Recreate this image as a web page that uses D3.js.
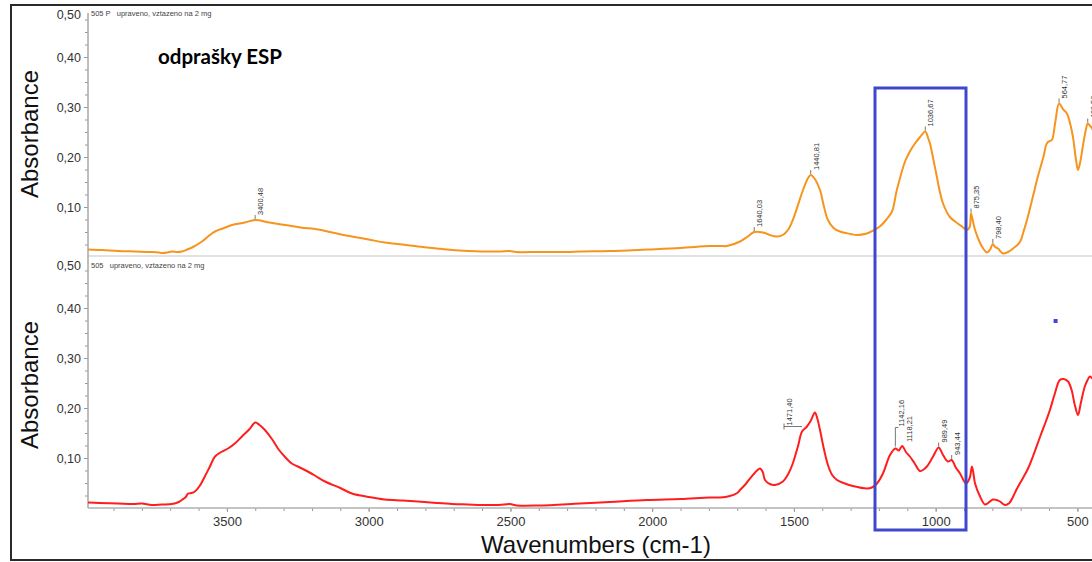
<!DOCTYPE html>
<html>
<head>
<meta charset="utf-8">
<script src="https://cdn.jsdelivr.net/npm/d3@7"></script>
<style>
  body { margin: 0; background: #fff; }
  svg { display: block; }
</style>
</head>
<body>
<svg id="chart" width="1092" height="562"></svg>
<script>
// ---- spectrum 505 P (top panel, orange) ----
const topWavenumbers = [3990,3940,3884,3820,3765,3740,3729,3710,3694,3675,3659,3640,3623,3588,3560,3542,3510,3482,3437,3400.48,3350,3295,3240,3179,3120,3059,3000,2943,2880,2826,2760,2706,2650,2601,2540,2502,2480,2400,2300,2255,2150,2019,1900,1796,1760,1736,1690,1660,1640.03,1609,1580,1560,1539,1520,1504,1485,1468,1450,1440.81,1425,1408,1395,1380,1360,1338,1300,1278,1243,1220,1197,1175,1154,1137,1108,1090,1073,1055,1036.67,1025,1020,1008,996,985,974,950,922,905,890,880,875.35,868,861,845,830,819,808,798.40,790,780,763,745,727,710,700,692,675,657,640,620,608,598,590,578,564.77,550,537,525,516,505,498,490,481,470,463.58,455,449,440,430];
const topAbsorbance = [0.015,0.014,0.012,0.011,0.010,0.009,0.008,0.009,0.011,0.010,0.011,0.015,0.019,0.031,0.044,0.051,0.058,0.064,0.069,0.074,0.069,0.064,0.059,0.055,0.048,0.041,0.035,0.029,0.025,0.021,0.017,0.014,0.012,0.011,0.011,0.012,0.010,0.010,0.010,0.011,0.012,0.015,0.018,0.022,0.022,0.022,0.031,0.042,0.050,0.049,0.043,0.041,0.044,0.055,0.074,0.105,0.134,0.158,0.164,0.155,0.134,0.103,0.074,0.058,0.051,0.046,0.044,0.047,0.053,0.061,0.074,0.091,0.134,0.191,0.212,0.227,0.240,0.251,0.235,0.227,0.195,0.161,0.130,0.107,0.080,0.067,0.060,0.054,0.060,0.087,0.070,0.054,0.030,0.015,0.009,0.015,0.026,0.020,0.017,0.007,0.010,0.017,0.025,0.033,0.047,0.080,0.121,0.160,0.200,0.227,0.232,0.234,0.270,0.307,0.295,0.287,0.265,0.241,0.195,0.174,0.190,0.221,0.255,0.267,0.262,0.258,0.245,0.235];

// ---- spectrum 505 (bottom panel, red) ----
const bottomWavenumbers = [3990,3950,3884,3830,3800,3765,3730,3694,3670,3659,3645,3637,3625,3613,3595,3578,3560,3542,3520,3496,3470,3447,3420,3400,3385,3366,3340,3320,3295,3271,3250,3225,3190,3154,3100,3059,3000,2943,2880,2826,2760,2706,2650,2601,2540,2502,2477,2400,2255,2150,2019,1900,1796,1760,1726,1700,1690,1670,1655,1630,1620,1610,1602,1585,1567,1539,1520,1504,1485,1471.40,1454,1440,1426,1418,1408,1395,1380,1365,1348,1320,1292,1243,1225,1207,1186,1161,1142.16,1130,1118.21,1105,1091,1075,1056,1045,1031,1010,989.49,980,974,957,943.44,930,914,893,880,872,866,861,845,826,815,798,785,773,756,740,725,713,690,675,657,630,610,597,580,562,548,533,520,510,498,488,474,465,456,449,440,430];
const bottomAbsorbance = [0.011,0.010,0.009,0.008,0.009,0.006,0.007,0.008,0.012,0.016,0.022,0.029,0.030,0.033,0.045,0.063,0.083,0.103,0.112,0.119,0.130,0.143,0.158,0.171,0.166,0.156,0.137,0.119,0.102,0.089,0.083,0.076,0.065,0.053,0.040,0.029,0.022,0.017,0.015,0.013,0.010,0.008,0.007,0.006,0.006,0.008,0.005,0.005,0.009,0.012,0.016,0.018,0.021,0.021,0.024,0.030,0.036,0.048,0.059,0.075,0.079,0.072,0.056,0.048,0.046,0.053,0.068,0.089,0.125,0.153,0.163,0.175,0.191,0.180,0.156,0.120,0.086,0.066,0.056,0.049,0.044,0.039,0.041,0.049,0.069,0.106,0.119,0.115,0.124,0.112,0.103,0.090,0.074,0.076,0.083,0.102,0.121,0.113,0.106,0.093,0.096,0.082,0.069,0.049,0.060,0.083,0.066,0.049,0.025,0.007,0.010,0.017,0.016,0.013,0.006,0.010,0.025,0.039,0.062,0.078,0.103,0.145,0.175,0.196,0.228,0.256,0.258,0.253,0.235,0.208,0.186,0.210,0.243,0.255,0.263,0.260,0.255,0.250];

// ---- peak picks ----
const topPeaks = [3400.48, 1640.03, 1440.81, 1036.67, 875.35, 798.40, 564.77, 463.58];
const bottomPeaks = [1471.40, 1142.16, 1118.21, 989.49, 943.44];

// ---- axes ----
const yTickValues = [0.1, 0.2, 0.3, 0.4, 0.5];
const xTickValues = [3500, 3000, 2500, 2000, 1500, 1000, 500];

// region of interest (cm-1)
const highlightRange = [1214, 893];

const svg = d3.select("#chart");
const W = 1092, H = 562;
const axisX = 88;

const x = d3.scaleLinear().domain([3990, 400]).range([axisX, axisX + 3590 * 0.2835]);
const yTop = d3.scaleLinear().domain([0, 0.5]).range([257, 7]);
const yBot = d3.scaleLinear().domain([0, 0.5]).range([508, 258]);

const comma = v => d3.format(".2f")(v).replace(".", ",");
const FONT = "'Liberation Sans', Arial, sans-serif";

// outer frame
svg.append("rect").attr("x", 11).attr("y", 5).attr("width", 1100).attr("height", 555)
  .attr("fill", "none").attr("stroke", "#2a2a2a").attr("stroke-width", 2);

// panel separator
svg.append("line").attr("x1", axisX).attr("x2", W).attr("y1", 256).attr("y2", 256)
  .attr("stroke", "#e2e2e2").attr("stroke-width", 2);

function drawYAxis(y) {
  const g = svg.append("g").attr("transform", `translate(${axisX},0)`);
  g.call(d3.axisLeft(y).tickValues(d3.range(0.025, 0.49, 0.025)).tickSize(3).tickFormat(""))
    .call(s => s.select(".domain").remove())
    .call(s => s.selectAll("line").attr("stroke", "#999"));
  const m = svg.append("g").attr("transform", `translate(${axisX},0)`);
  m.call(d3.axisLeft(y).tickValues(yTickValues).tickSize(4).tickPadding(3).tickFormat(comma))
    .call(s => s.select(".domain").remove())
    .call(s => s.selectAll("line").attr("stroke", "#999"))
    .call(s => s.selectAll("text").attr("fill", "#333").attr("font-size", "12.5px").attr("font-family", FONT));
  m.selectAll(".tick").filter(d => d === 0.5)
    .attr("transform", `translate(0,${y(0.5) + 8})`)
    .select("line").remove();
}
drawYAxis(yTop);
drawYAxis(yBot);

// vertical axis line
svg.append("line").attr("x1", axisX).attr("x2", axisX).attr("y1", 13).attr("y2", 508)
  .attr("stroke", "#a8a8a8").attr("stroke-width", 1.5);

// x axis
const xg = svg.append("g").attr("transform", `translate(0,${yBot(0)})`);
xg.call(d3.axisBottom(x).tickValues(d3.range(3900, 400, -100)).tickSize(3).tickFormat(""))
  .call(s => s.select(".domain").remove())
  .call(s => s.selectAll("line").attr("stroke", "#999"));
const xm = svg.append("g").attr("transform", `translate(0,${yBot(0)})`);
xm.call(d3.axisBottom(x).tickValues(xTickValues).tickSize(4).tickPadding(5).tickFormat(d3.format("d")))
  .call(s => s.select(".domain").remove())
  .call(s => s.selectAll("line").attr("stroke", "#999"))
  .call(s => s.selectAll("text").attr("fill", "#333").attr("font-size", "13px").attr("font-family", FONT));
svg.append("line").attr("x1", axisX).attr("x2", W).attr("y1", yBot(0)).attr("y2", yBot(0))
  .attr("stroke", "#b0b0b0").attr("stroke-width", 1.5);

// axis titles
[yTop, yBot].forEach(y => {
  svg.append("text")
    .attr("transform", `translate(38,${(y(0) + y(0.5)) / 2 + 2}) rotate(-90)`)
    .attr("text-anchor", "middle").attr("font-family", FONT).attr("font-size", "24px")
    .attr("fill", "#111").text("Absorbance");
});
svg.append("text").attr("x", 596).attr("y", 553).attr("text-anchor", "middle")
  .attr("font-family", FONT).attr("font-size", "24px").attr("fill", "#111").text("Wavenumbers (cm-1)");

// spectrum captions
svg.append("text").attr("x", 91).attr("y", 16).attr("font-family", FONT).attr("font-size", "7.5px")
  .attr("fill", "#444").attr("xml:space", "preserve").style("white-space", "pre")
  .text("505 P   upraveno, vztazeno na 2 mg");
svg.append("text").attr("x", 91).attr("y", 268).attr("font-family", FONT).attr("font-size", "7.5px")
  .attr("fill", "#444").attr("xml:space", "preserve").style("white-space", "pre")
  .text("505   upraveno, vztazeno na 2 mg");

svg.append("text").attr("x", 158).attr("y", 64).attr("font-family", "Lato, 'Open Sans', sans-serif")
  .attr("font-weight", "bold").attr("font-size", "20.5px").attr("fill", "#000").text("odprašky ESP");

// spectra
function drawSpectrum(wn, ab, y, color) {
  const pts = wn.map((w, i) => [w, ab[i]]);
  svg.append("path").datum(pts)
    .attr("d", d3.line().x(d => x(d[0])).y(d => y(d[1])).curve(d3.curveCatmullRom.alpha(0.5)))
    .attr("fill", "none").attr("stroke", color).attr("stroke-width", 2).attr("stroke-linejoin", "round");
  return pts;
}
const topPts = drawSpectrum(topWavenumbers, topAbsorbance, yTop, "#f7941d");
const botPts = drawSpectrum(bottomWavenumbers, bottomAbsorbance, yBot, "#ff1e1e");

function valueAt(pts, w) {
  const exact = pts.find(p => p[0] === w);
  if (exact) return exact[1];
  for (let i = 0; i < pts.length - 1; i++) {
    const [w0, a0] = pts[i], [w1, a1] = pts[i + 1];
    if (w <= w0 && w >= w1) return a0 + (a1 - a0) * (w - w0) / (w1 - w0);
  }
  return 0;
}

// peak labels; leader style for crowded picks
const leader = { 1471.40: "left", 1142.16: "up", 1118.21: "near" };
function drawPeaks(peaks, pts, y) {
  peaks.forEach(w => {
    const px = x(w), py = y(valueAt(pts, w));
    const g = svg.append("g").attr("stroke", "#555").attr("stroke-width", 0.8);
    let tx = px + 8, ty = py - 5;
    if (leader[w] === "left") {
      g.append("polyline").attr("fill", "none")
        .attr("points", `${px},${py - 5} ${px - 18},${py - 5}`);
      g.append("line").attr("x1", px - 18).attr("x2", px - 18).attr("y1", py - 8).attr("y2", py - 2);
      tx = px - 10; ty = py - 6;
    } else if (leader[w] === "up") {
      g.append("polyline").attr("fill", "none")
        .attr("points", `${px},${py - 2} ${px},${py - 21} ${px + 3},${py - 21}`);
      tx = px + 9; ty = py - 22;
    } else if (leader[w] === "near") {
      tx = px + 10; ty = py - 4;
    } else {
      g.append("line").attr("x1", px).attr("x2", px).attr("y1", py - 1).attr("y2", py - 5);
    }
    svg.append("text").attr("transform", `translate(${tx},${ty}) rotate(-90)`)
      .attr("font-family", FONT).attr("font-size", "7.5px").attr("fill", "#333")
      .text(comma(w));
  });
}
drawPeaks(topPeaks, topPts, yTop);
drawPeaks(bottomPeaks, botPts, yBot);

// highlighted region
const hx0 = x(highlightRange[0]), hx1 = x(highlightRange[1]);
svg.append("rect").attr("x", hx0).attr("y", yTop(0.338))
  .attr("width", hx1 - hx0).attr("height", yBot(-0.044) - yTop(0.338))
  .attr("fill", "none").attr("stroke", "#3f48cc").attr("stroke-width", 3);
svg.append("rect").attr("x", x(577) - 2).attr("y", yBot(0.374) - 2).attr("width", 4).attr("height", 4)
  .attr("fill", "#3f48cc");
</script>
</body>
</html>
